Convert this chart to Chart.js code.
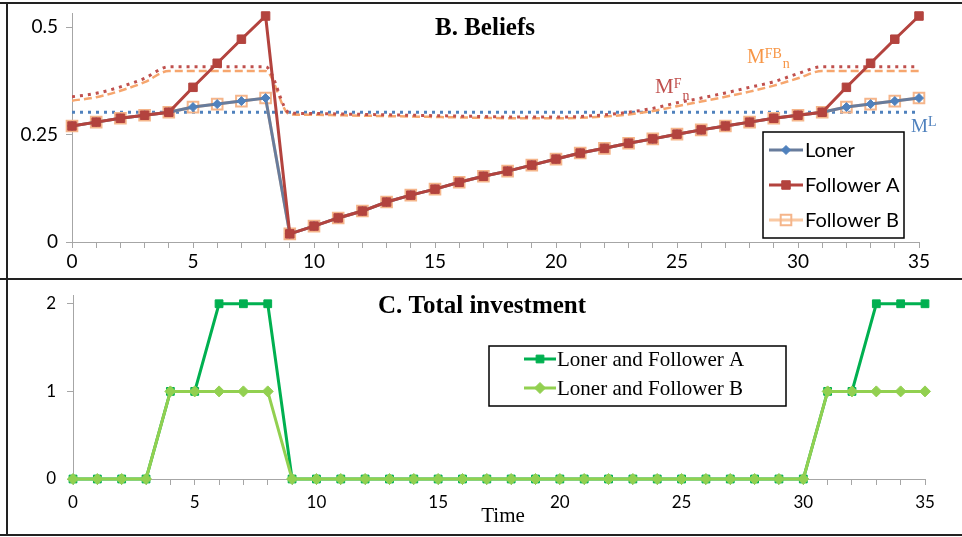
<!DOCTYPE html>
<html>
<head>
<meta charset="utf-8">
<title>Beliefs and total investment</title>
<script src="https://cdn.jsdelivr.net/npm/chart.js@4/dist/chart.umd.min.js"></script>
<style>
  html, body { margin: 0; padding: 0; background: #ffffff; }
  #wrap { position: relative; width: 962px; height: 537px; overflow: hidden; background: #ffffff; }
  #wrap canvas { position: absolute; left: 0; }
  #beliefs { top: 0; }
  #invest { top: 278px; }
  .rule { position: absolute; background: #222222; }
</style>
</head>
<body>
<div id="wrap">
  <canvas id="beliefs" width="962" height="278"></canvas>
  <canvas id="invest" width="962" height="259"></canvas>
  <div class="rule" style="left:0;top:2px;width:962px;height:2px"></div>
  <div class="rule" style="left:6px;top:2px;width:2px;height:534px"></div>
  <div class="rule" style="left:0;top:278px;width:962px;height:2px"></div>
  <div class="rule" style="left:0;top:534px;width:962px;height:2px"></div>
</div>
<script>
// ---- data ----
const time = [0,1,2,3,4,5,6,7,8,9,10,11,12,13,14,15,16,17,18,19,20,21,22,23,24,25,26,27,28,29,30,31,32,33,34,35];
const timeTickLabels = [0,5,10,15,20,25,30,35];
const beliefTickValues = [0,0.25,0.5];
const investTickValues = [0,1,2];

const beliefNames = ['Loner', 'Follower A', 'Follower B'];
const investNames = ['Loner and Follower A', 'Loner and Follower B'];

const loner = [0.270,0.279,0.288,0.295,0.302,0.314,0.321,0.328,0.335,0.019,0.037,0.056,0.072,0.093,0.109,0.123,0.139,0.153,0.165,0.179,0.193,0.207,0.218,0.230,0.240,0.251,0.261,0.270,0.279,0.288,0.295,0.302,0.314,0.321,0.328,0.335];
const followerA = [0.270,0.279,0.288,0.295,0.302,0.360,0.416,0.472,0.526,0.019,0.037,0.056,0.072,0.093,0.109,0.123,0.139,0.153,0.165,0.179,0.193,0.207,0.218,0.230,0.240,0.251,0.261,0.270,0.279,0.288,0.295,0.302,0.360,0.416,0.472,0.526];
const followerB = [0.270,0.279,0.288,0.295,0.302,0.314,0.321,0.328,0.335,0.019,0.037,0.056,0.072,0.093,0.109,0.123,0.139,0.153,0.165,0.179,0.193,0.207,0.218,0.230,0.240,0.251,0.261,0.270,0.279,0.288,0.295,0.302,0.314,0.321,0.328,0.335];

// investment thresholds
const thresholdL = [0.302,0.302,0.302,0.302,0.302,0.302,0.302,0.302,0.302,0.302,0.302,0.302,0.302,0.302,0.302,0.302,0.302,0.302,0.302,0.302,0.302,0.302,0.302,0.302,0.302,0.302,0.302,0.302,0.302,0.302,0.302,0.302,0.302,0.302,0.302,0.302];
const thresholdF = [0.338,0.346,0.361,0.381,0.408,0.408,0.408,0.408,0.408,0.300,0.299,0.298,0.297,0.296,0.295,0.294,0.293,0.292,0.291,0.291,0.291,0.292,0.296,0.302,0.311,0.324,0.335,0.347,0.360,0.373,0.392,0.408,0.408,0.408,0.408,0.408];
const thresholdFB = [0.329,0.337,0.352,0.372,0.398,0.398,0.398,0.398,0.398,0.297,0.296,0.295,0.294,0.293,0.292,0.291,0.290,0.289,0.288,0.288,0.288,0.289,0.292,0.297,0.305,0.316,0.327,0.338,0.350,0.364,0.381,0.398,0.398,0.398,0.398,0.398];

const investA = [0,0,0,0,1,1,2,2,2,0,0,0,0,0,0,0,0,0,0,0,0,0,0,0,0,0,0,0,0,0,0,1,1,2,2,2];
const investB = [0,0,0,0,1,1,1,1,1,0,0,0,0,0,0,0,0,0,0,0,0,0,0,0,0,0,0,0,0,0,0,1,1,1,1,1];

// ---- helpers ----
const pts = arr => arr.map((v, i) => ({ x: time[i], y: v }));
const AXIS = '#a6a6a6';
const SANS = 'Lato, "Open Sans", sans-serif';
const SERIF = '"Liberation Serif", "DejaVu Serif", serif';

// fixed axis boxes, so the plot area is set by the layout padding alone
const fixHeight = h => s => { s.height = h; s.paddingLeft = 0; s.paddingRight = 0; s.paddingTop = 0; s.paddingBottom = 0; };
const fixWidth = w => s => { s.width = w; s.paddingLeft = 0; s.paddingRight = 0; s.paddingTop = 0; s.paddingBottom = 0; };

function drawLegend(chart, box, rows, font) {
  const ctx = chart.ctx;
  ctx.save();
  ctx.fillStyle = '#ffffff';
  ctx.fillRect(box.x, box.y, box.w, box.h);
  ctx.strokeStyle = '#000000';
  ctx.lineWidth = 1.5;
  ctx.strokeRect(box.x, box.y, box.w, box.h);
  rows.forEach(r => {
    const ds = chart.data.datasets[r.index];
    ctx.strokeStyle = ds.borderColor;
    ctx.lineWidth = ds.borderWidth;
    ctx.setLineDash([]);
    ctx.beginPath();
    ctx.moveTo(r.x1, r.y);
    ctx.lineTo(r.x2, r.y);
    ctx.stroke();
    ctx.fillStyle = ds.pointBackgroundColor;
    ctx.strokeStyle = ds.pointBorderColor;
    ctx.lineWidth = ds.pointBorderWidth;
    Chart.helpers.drawPoint(ctx, {
      pointStyle: ds.pointStyle, radius: ds.pointRadius,
      borderWidth: ds.pointBorderWidth, rotation: 0
    }, (r.x1 + r.x2) / 2, r.y);
    ctx.fillStyle = '#000000';
    ctx.font = font;
    ctx.textAlign = 'left';
    ctx.textBaseline = 'middle';
    ctx.fillText(ds.label, r.tx, r.y + 1);
  });
  ctx.restore();
}

function drawSymbol(chart, t, v, color, sizes, sup, sub) {
  const ctx = chart.ctx;
  const x = chart.scales.x.getPixelForValue(t);
  const y = chart.scales.y.getPixelForValue(v);
  ctx.save();
  ctx.fillStyle = color;
  ctx.textAlign = 'left';
  ctx.textBaseline = 'alphabetic';
  ctx.font = sizes.main + 'px ' + SERIF;
  ctx.fillText('M', x, y);
  const w = ctx.measureText('M').width;
  ctx.font = sizes.small + 'px ' + SERIF;
  let supW = 0;
  if (sup) {
    ctx.fillText(sup, x + w, y - sizes.raise);
    supW = ctx.measureText(sup).width;
  }
  if (sub) {
    ctx.fillText(sub, x + w + supW + 1, y + sizes.drop);
  }
  ctx.restore();
}

function drawTitle(chart, text, cx, baseline, font) {
  const ctx = chart.ctx;
  ctx.save();
  ctx.fillStyle = '#000000';
  ctx.font = font;
  ctx.textAlign = 'center';
  ctx.textBaseline = 'alphabetic';
  ctx.fillText(text, cx, baseline);
  ctx.restore();
}

// ---- B. Beliefs ----
const beliefsDecor = {
  id: 'beliefsDecor',
  afterDraw(chart) {
    drawTitle(chart, 'B. Beliefs', 485, 35, 'bold 25px ' + SERIF);
    drawSymbol(chart, 24.09, 0.347, '#c0504d', { main: 21, small: 14, raise: 5, drop: 7 }, 'F', 'n');
    drawSymbol(chart, 27.89, 0.417, '#f79646', { main: 20, small: 14, raise: 5, drop: 5 }, 'FB', 'n');
    drawSymbol(chart, 34.67, 0.256, '#4f81bd', { main: 19, small: 14, raise: 6, drop: 0 }, 'L', '');
    drawLegend(chart, { x: 763, y: 132, w: 141, h: 106 }, [
      { index: 0, x1: 769, x2: 803, tx: 805, y: 150 },
      { index: 1, x1: 769, x2: 803, tx: 805, y: 185 },
      { index: 2, x1: 769, x2: 803, tx: 805, y: 220 }
    ], '20px ' + SANS);
  }
};

new Chart(document.getElementById('beliefs'), {
  type: 'line',
  data: {
    datasets: [
      {
        label: beliefNames[0], data: pts(loner), order: 1, clip: false,
        borderColor: '#687c9c', borderWidth: 3, tension: 0,
        pointStyle: 'rectRot', pointRadius: 4.5, pointBorderWidth: 1,
        pointBackgroundColor: '#4f81bd', pointBorderColor: '#4f81bd'
      },
      {
        label: beliefNames[1], data: pts(followerA), order: 0, clip: false,
        borderColor: '#b3433e', borderWidth: 3, tension: 0,
        pointStyle: 'rect', pointRadius: 6, pointBorderWidth: 1,
        pointBackgroundColor: '#b3433e', pointBorderColor: '#b3433e'
      },
      {
        label: beliefNames[2], data: pts(followerB), order: 2, clip: false,
        borderColor: '#f9c8a2', borderWidth: 3, tension: 0,
        pointStyle: 'rect', pointRadius: 7.5, pointBorderWidth: 2,
        pointBackgroundColor: 'rgba(255,255,255,0)', pointBorderColor: '#f5b58a'
      },
      {
        label: 'MFn', data: pts(thresholdF), order: 3,
        borderColor: '#c0504d', borderWidth: 3, borderDash: [3, 5],
        cubicInterpolationMode: 'monotone', pointRadius: 0
      },
      {
        label: 'MFBn', data: pts(thresholdFB), order: 4,
        borderColor: '#f6a66e', borderWidth: 2.5, borderDash: [8, 4],
        cubicInterpolationMode: 'monotone', pointRadius: 0
      },
      {
        label: 'ML', data: pts(thresholdL), order: 5,
        borderColor: '#4f81bd', borderWidth: 3, borderDash: [3, 5],
        pointRadius: 0
      }
    ]
  },
  options: {
    responsive: false,
    animation: false,
    layout: { padding: { left: 0, right: 43, top: 13, bottom: 0 } },
    plugins: { legend: { display: false }, tooltip: { enabled: false }, title: { display: false } },
    scales: {
      x: {
        type: 'linear', min: 0, max: 35,
        afterBuildTicks: s => { s.ticks = time.map(v => ({ value: v })); },
        afterFit: fixHeight(36),
        ticks: {
          autoSkip: false, maxRotation: 0, padding: 2, color: '#000000',
          font: { family: SANS, size: 19 },
          callback: v => (timeTickLabels.includes(v) ? String(v) : '')
        },
        grid: { drawOnChartArea: false, drawTicks: true, tickLength: 6, color: AXIS },
        border: { display: true, color: AXIS, width: 1 }
      },
      y: {
        type: 'linear', min: 0, max: 0.533,
        afterBuildTicks: s => { s.ticks = beliefTickValues.map(v => ({ value: v })); },
        afterFit: fixWidth(72),
        ticks: {
          padding: 8, color: '#000000',
          font: { family: SANS, size: 19 },
          callback: v => String(v)
        },
        grid: { drawOnChartArea: false, drawTicks: true, tickLength: 6, color: AXIS },
        border: { display: true, color: AXIS, width: 1 }
      }
    }
  },
  plugins: [beliefsDecor]
});

// ---- C. Total investment ----
const investDecor = {
  id: 'investDecor',
  afterDraw(chart) {
    drawTitle(chart, 'C. Total investment', 482, 35, 'bold 25px ' + SERIF);
    drawTitle(chart, 'Time', 503, 244, '21px ' + SERIF);
    drawLegend(chart, { x: 489, y: 68, w: 297, h: 60 }, [
      { index: 0, x1: 524, x2: 556, tx: 557, y: 81 },
      { index: 1, x1: 524, x2: 556, tx: 557, y: 110 }
    ], '21px ' + SERIF);
  }
};

new Chart(document.getElementById('invest'), {
  type: 'line',
  data: {
    datasets: [
      {
        label: investNames[0], data: pts(investA), order: 1, clip: false,
        borderColor: '#00b050', borderWidth: 3, tension: 0,
        pointStyle: 'rect', pointRadius: 5.5, pointBorderWidth: 1,
        pointBackgroundColor: '#00b050', pointBorderColor: '#00b050'
      },
      {
        label: investNames[1], data: pts(investB), order: 0, clip: false,
        borderColor: '#92d050', borderWidth: 3, tension: 0,
        pointStyle: 'rectRot', pointRadius: 5.5, pointBorderWidth: 1,
        pointBackgroundColor: '#92d050', pointBorderColor: '#92d050'
      }
    ]
  },
  options: {
    responsive: false,
    animation: false,
    layout: { padding: { left: 0, right: 37, top: 17, bottom: 0 } },
    plugins: { legend: { display: false }, tooltip: { enabled: false }, title: { display: false } },
    scales: {
      x: {
        type: 'linear', min: 0, max: 35,
        afterBuildTicks: s => { s.ticks = time.map(v => ({ value: v })); },
        afterFit: fixHeight(58),
        ticks: {
          autoSkip: false, maxRotation: 0, padding: 7, color: '#000000',
          font: { family: SANS, size: 17 },
          callback: v => (timeTickLabels.includes(v) ? String(v) : '')
        },
        grid: { drawOnChartArea: false, drawTicks: true, tickLength: 6, color: AXIS },
        border: { display: true, color: AXIS, width: 1 }
      },
      y: {
        type: 'linear', min: 0, max: 2.1,
        afterBuildTicks: s => { s.ticks = investTickValues.map(v => ({ value: v })); },
        afterFit: fixWidth(73),
        ticks: {
          padding: 11, color: '#000000',
          font: { family: SANS, size: 17 },
          callback: v => String(v)
        },
        grid: { drawOnChartArea: false, drawTicks: true, tickLength: 6, color: AXIS },
        border: { display: true, color: AXIS, width: 1 }
      }
    }
  },
  plugins: [investDecor]
});
</script>
</body>
</html>
